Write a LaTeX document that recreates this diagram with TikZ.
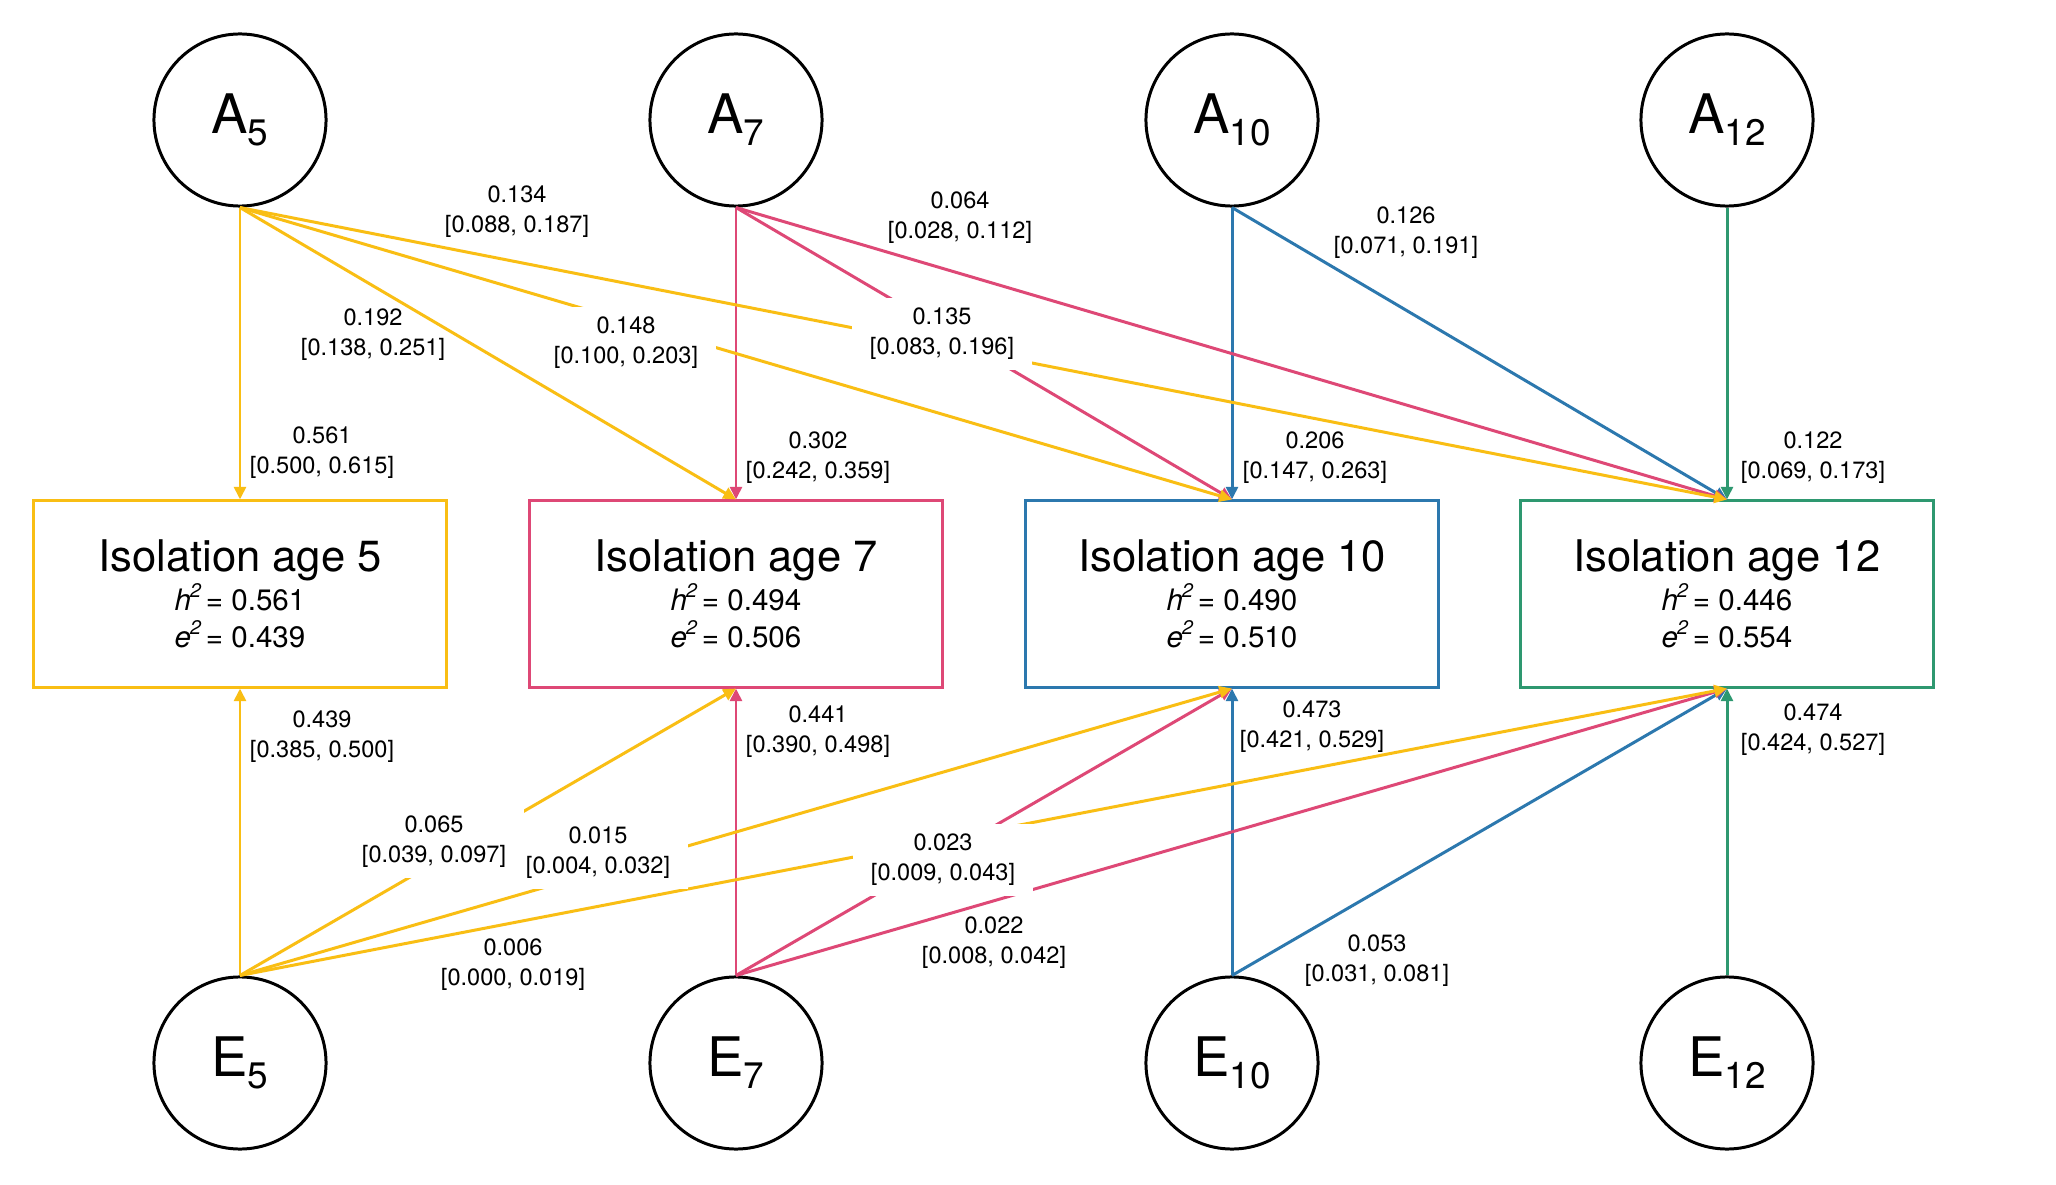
\documentclass[tikz,border=0pt]{standalone}
\usepackage{fontspec}
\setmainfont{TeX Gyre Heros}
\usetikzlibrary{arrows.meta}
\definecolor{ycol}{RGB}{249,190,20}
\definecolor{pcol}{RGB}{222,72,118}
\definecolor{bcol}{RGB}{44,120,174}
\definecolor{gcol}{RGB}{46,152,112}
\newcommand\lsub[1]{\raisebox{-3.4pt}{\fontsize{10.5}{12}\selectfont #1}}
\newcommand\hsq{\textit{h}\kern-0.3pt\raisebox{0.45em}{\fontsize{5.6}{6}\selectfont\itshape 2}}
\newcommand\esq{\textit{e}\kern-0.3pt\raisebox{0.45em}{\fontsize{5.6}{6}\selectfont\itshape 2}}
\newcommand\btitle[1]{{\fontsize{12.4}{14}\selectfont #1}}
\tikzset{
  lat/.style={circle,draw=black,line width=0.85pt,minimum size=1.72cm,inner sep=0pt,font=\fontsize{15.5}{18}\selectfont},
  obsbox/.style={rectangle,draw=#1,line width=0.85pt,minimum width=4.13cm,minimum height=1.86cm,align=center,inner sep=0pt,font=\fontsize{8.4}{10.5}\selectfont},
  arr/.style={line width=0.85pt,-{Triangle[length=3.6pt,width=3.4pt]}},
  lbl/.style={align=center,font=\fontsize{6.7}{8.5}\selectfont,inner xsep=5pt,inner ysep=3pt},
  lblw/.style={lbl,fill=white}
}
\begin{document}
\begin{tikzpicture}[x=0.01cm,y=-0.01cm]
\useasboundingbox[fill=white] (0,0) rectangle (2056,1185);
% latent nodes
\node[lat] (A5) at (240,120) {A\lsub{5}};
\node[lat] (A7) at (736,120) {A\lsub{7}};
\node[lat] (A10) at (1232,120) {A\lsub{10}};
\node[lat] (A12) at (1727,120) {A\lsub{12}};
\node[lat] (E5) at (240,1063) {E\lsub{5}};
\node[lat] (E7) at (736,1063) {E\lsub{7}};
\node[lat] (E10) at (1232,1063) {E\lsub{10}};
\node[lat] (E12) at (1727,1063) {E\lsub{12}};
% boxes
\node[obsbox=ycol] (B5) at (240,594) {\btitle{Isolation age 5}\\[0.6pt]\hsq\,=\;0.561\\\esq\,=\;0.439};
\node[obsbox=pcol] (B7) at (736,594) {\btitle{Isolation age 7}\\[0.6pt]\hsq\,=\;0.494\\\esq\,=\;0.506};
\node[obsbox=bcol] (B10) at (1232,594) {\btitle{Isolation age 10}\\[0.6pt]\hsq\,=\;0.490\\\esq\,=\;0.510};
\node[obsbox=gcol] (B12) at (1727,594) {\btitle{Isolation age 12}\\[0.6pt]\hsq\,=\;0.446\\\esq\,=\;0.554};
% top edges
\draw[arr,gcol] (A12.south) -- (B12.north);
\draw[arr,bcol] (A10.south) -- (B10.north);
\draw[arr,bcol] (A10.south) -- (B12.north);
\draw[arr,pcol] (A7.south) -- (B7.north);
\draw[arr,pcol] (A7.south) -- (B10.north);
\draw[arr,pcol] (A7.south) -- (B12.north);
\draw[arr,ycol] (A5.south) -- (B5.north);
\draw[arr,ycol] (A5.south) -- (B7.north);
\draw[arr,ycol] (A5.south) -- (B10.north);
\draw[arr,ycol] (A5.south) -- (B12.north);
% bottom edges
\draw[arr,gcol] (E12.north) -- (B12.south);
\draw[arr,bcol] (E10.north) -- (B10.south);
\draw[arr,bcol] (E10.north) -- (B12.south);
\draw[arr,pcol] (E7.north) -- (B7.south);
\draw[arr,pcol] (E7.north) -- (B10.south);
\draw[arr,pcol] (E7.north) -- (B12.south);
\draw[arr,ycol] (E5.north) -- (B5.south);
\draw[arr,ycol] (E5.north) -- (B7.south);
\draw[arr,ycol] (E5.north) -- (B10.south);
\draw[arr,ycol] (E5.north) -- (B12.south);
% labels top
\node[lbl] (t1) at (517,212) {0.134\\{}[0.088, 0.187]};
\node[lbl] (t2) at (960,218) {0.064\\{}[0.028, 0.112]};
\node[lbl] (t3) at (1406,233) {0.126\\{}[0.071, 0.191]};
\node[lbl] (t4) at (373,335) {0.192\\{}[0.138, 0.251]};
\node[lblw] (t5) at (626,343) {0.148\\{}[0.100, 0.203]};
\node[lblw] (t6) at (942,334) {0.135\\{}[0.083, 0.196]};
\node[lbl] (t7) at (322,453) {0.561\\{}[0.500, 0.615]};
\node[lbl] (t8) at (818,458) {0.302\\{}[0.242, 0.359]};
\node[lbl] (t9) at (1315,458) {0.206\\{}[0.147, 0.263]};
\node[lbl] (t10) at (1813,458) {0.122\\{}[0.069, 0.173]};
% labels bottom
\node[lbl] (b1) at (322,737) {0.439\\{}[0.385, 0.500]};
\node[lbl] (b2) at (818,732) {0.441\\{}[0.390, 0.498]};
\node[lbl] (b3) at (1312,727) {0.473\\{}[0.421, 0.529]};
\node[lbl] (b4) at (1813,730) {0.474\\{}[0.424, 0.527]};
\node[lblw] (b5) at (434,842) {0.065\\{}[0.039, 0.097]};
\node[lblw] (b6) at (598,853) {0.015\\{}[0.004, 0.032]};
\node[lblw] (b7) at (943,860) {0.023\\{}[0.009, 0.043]};
\node[lbl] (b8) at (513,965) {0.006\\{}[0.000, 0.019]};
\node[lbl] (b9) at (994,943) {0.022\\{}[0.008, 0.042]};
\node[lbl] (b10) at (1377,961) {0.053\\{}[0.031, 0.081]};
\end{tikzpicture}
\end{document}
